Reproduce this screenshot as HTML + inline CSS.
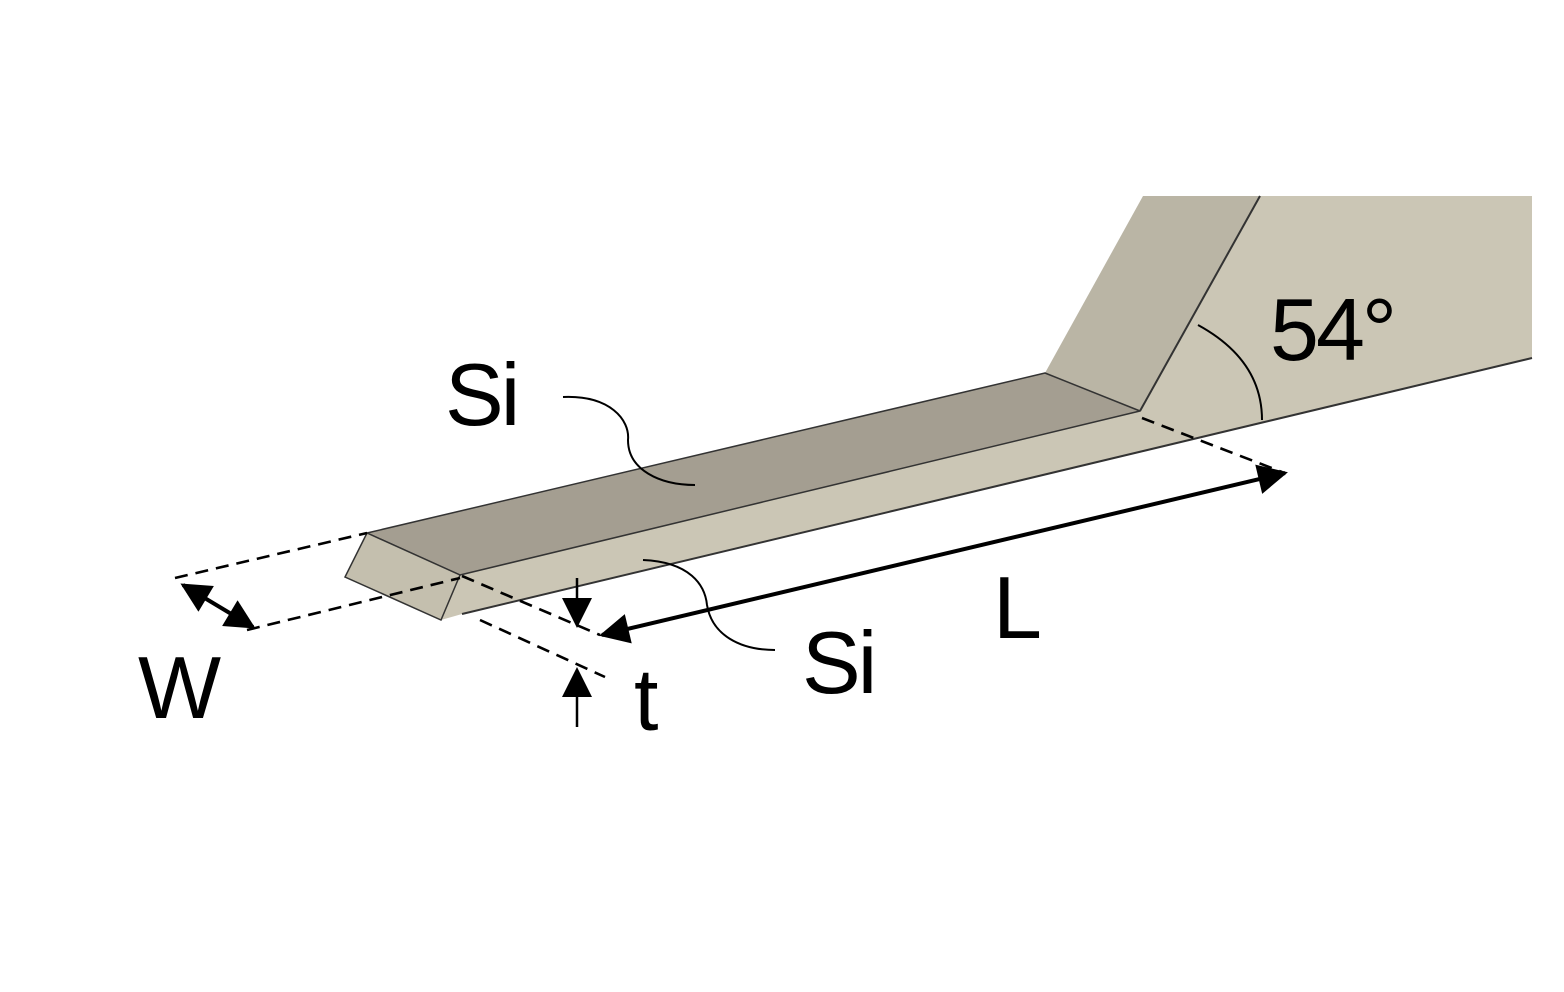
<!DOCTYPE html>
<html><head><meta charset="utf-8"><style>
html,body{margin:0;padding:0;background:#fff;}
svg{display:block}
text{font-family:"Liberation Sans Narrow","Liberation Sans",sans-serif;fill:#000;font-size:88px;letter-spacing:-3px}
</style></head><body>
<svg width="1564" height="992" viewBox="0 0 1564 992" xmlns="http://www.w3.org/2000/svg">
<defs>
<marker id="ahb" viewBox="0 0 10 10" refX="9" refY="5" markerWidth="34" markerHeight="30" orient="auto-start-reverse" markerUnits="userSpaceOnUse">
<path d="M0,0 L10,5 L0,10 z" fill="#000"/></marker>
</defs>
<polygon points="460,575 1140,411 1260,196 1532,196 1532,358 462,614 441,620" fill="#cbc6b5"/>
<polygon points="1045,373 1143,196 1260,196 1140,411" fill="#bab5a5"/>
<polygon points="367,533 1045,373 1140,411 460,575" fill="#a49e91" stroke="#333" stroke-width="1.5" stroke-linejoin="round"/>
<polygon points="367,533 460,575 441,620 345,577" fill="#c4bfae" stroke="#333" stroke-width="1.5"/>
<line x1="1140" y1="411" x2="1260" y2="196" stroke="#333" stroke-width="2"/>
<line x1="1532" y1="358" x2="462" y2="614" stroke="#333" stroke-width="2"/>
<g stroke="#000" stroke-width="2.6" stroke-dasharray="13,8" fill="none">
<line x1="175" y1="578" x2="367" y2="533"/>
<line x1="247" y1="630" x2="460" y2="578"/>
<line x1="462" y1="576" x2="600" y2="635"/>
<line x1="480" y1="620" x2="605" y2="677"/>
<line x1="1142" y1="418" x2="1282" y2="472"/>
</g>
<line x1="183" y1="585" x2="253" y2="627" stroke="#000" stroke-width="4" marker-start="url(#ahb)" marker-end="url(#ahb)"/>
<line x1="602" y1="635" x2="1285" y2="473" stroke="#000" stroke-width="4" marker-start="url(#ahb)" marker-end="url(#ahb)"/>
<line x1="577" y1="578" x2="577" y2="625" stroke="#000" stroke-width="2.5" marker-end="url(#ahb)"/>
<line x1="577" y1="727" x2="577" y2="670" stroke="#000" stroke-width="2.5" marker-end="url(#ahb)"/>
<path d="M1198,325 Q1262,360 1262,420" stroke="#000" stroke-width="2" fill="none"/>
<path d="M563,397 C610,395 630,420 628,440 C628,470 660,485 695,485" stroke="#000" stroke-width="2" fill="none"/>
<path d="M643,560 C690,562 705,585 707,605 C712,635 740,650 775,650" stroke="#000" stroke-width="2" fill="none"/>
<text x="445" y="425">Si</text>
<text x="802" y="693">Si</text>
<text x="138" y="718">W</text>
<text x="634" y="730">t</text>
<text x="993" y="638">L</text>
<text x="1270" y="360">54°</text>
</svg>
</body></html>
